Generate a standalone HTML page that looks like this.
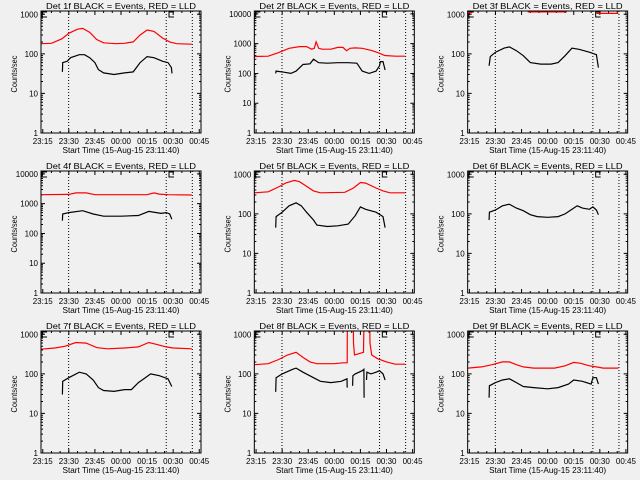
<!DOCTYPE html>
<html><head><meta charset="utf-8"><style>
html,body{margin:0;padding:0;background:#f0f0f0;}
svg{display:block;font-family:"Liberation Sans",sans-serif;}
</style></head><body>
<svg id="chart" width="640" height="480" viewBox="0 0 640 480" xmlns="http://www.w3.org/2000/svg"></svg>
<script>
// ---- data (time in minutes after 23:00, values in counts/sec) ----
const detectors = ["1f","2f","3f","4f","5f","6f","7f","8f","9f"];
const yMaxes = [1210,12500,1210,12500,1210,1210,1210,1210,1210];
const xTickLabels = ["23:15","23:30","23:45","00:00","00:15","00:30","00:45"];
const xTickTimes = [15,30,45,60,75,90,105];
const dottedTimes = [29.9,86,101];
const markerTimes = [14.6,87.6];
const red1 = [[14,180],[20,185],[26,240],[30,330],[35,420],[38,440],[42,350],[46,230],[50,190],[57,180],[62,185],[67,200],[71,300],[75,400],[79,370],[84,250],[88,200],[92,180],[100.7,175]];
const black1 = [[26.3,35],[26.5,60],[29,65],[31,80],[36,95],[39,95],[42,80],[45,60],[47,40],[50,33],[56,30],[62,33],[67,35],[71,60],[75,85],[79,80],[84,65],[87,60],[89,45],[89.3,32]];
const red2 = [[14,370],[22,380],[28,500],[34,700],[40,800],[44,800],[47,650],[48.5,700],[49.5,1150],[51,700],[53,650],[58,650],[62,750],[65,750],[67,580],[69,700],[72,720],[76,700],[81,600],[85,500],[89,400],[95,380],[100.7,380]];
const black2 = [[26.3,100],[26.5,120],[31,110],[35,100],[38,120],[42,200],[46,210],[48,300],[51,230],[56,220],[62,230],[68,230],[73,220],[76,120],[80,100],[84,120],[86,180],[86.5,250],[88,250],[89.2,130]];
const red3 = [[14,1100],[16.5,1100],null,[48.5,1150],[71,1150],null,[88,1050],[100.7,1050]];
const black3 = [[26.3,50],[27,85],[30,110],[35,140],[38,150],[42,120],[46,90],[50,60],[56,55],[62,55],[66,60],[70,90],[74,140],[78,130],[84,110],[88,95],[89.2,45]];
const red4 = [[14,2000],[30,2050],[34,2300],[40,2300],[45,2000],[75,2000],[79,2300],[82,2100],[87,2000],[100.7,1950]];
const black4 = [[26.3,270],[26.5,450],[30,500],[38,580],[44,450],[50,380],[60,380],[70,400],[76,550],[83,470],[86,500],[88,450],[89.2,300]];
const red5 = [[14,340],[22,360],[28,480],[32,600],[37,700],[40,650],[44,500],[48,380],[52,340],[66,350],[71,450],[75,620],[78,600],[84,450],[88,380],[92,340],[100.7,340]];
const black5 = [[26.3,45],[26.5,85],[30,110],[34,160],[38,190],[41,160],[44,110],[48,70],[50,52],[56,48],[62,50],[68,55],[72,90],[75,150],[78,130],[84,110],[88,85],[89.2,45]];
const red6 = [];
const black6 = [[26.3,70],[26.5,110],[30,125],[34,160],[38,175],[42,140],[46,120],[50,95],[54,85],[60,82],[66,85],[70,100],[74,130],[77,160],[80,140],[84,130],[86,150],[88,125],[89.2,95]];
const red7 = [[14,420],[22,450],[28,500],[34,620],[40,600],[46,460],[52,430],[62,450],[70,480],[76,620],[80,560],[86,480],[90,450],[100.7,430]];
const black7 = [[26.3,30],[26.5,65],[30,80],[36,110],[40,100],[44,70],[47,45],[50,38],[56,36],[62,40],[66,40],[70,60],[74,80],[77,100],[82,90],[87,75],[89.2,48]];
const red8 = [[14,170],[22,180],[28,230],[33,300],[38,350],[42,260],[46,200],[50,180],[60,180],[65,190],[67.4,190],[67.5,5000],[70.9,5000],[71,600],[71.6,300],[76.8,350],[77.2,5000],[80.2,5000],[80.5,600],[81.5,300],[85,240],[90,200],[95,175],[100.7,175]];
const black8 = [[26.3,35],[26.5,80],[30,100],[36,130],[38,140],[42,110],[48,80],[52,65],[58,60],[64,65],[67.3,75],[67.4,45],null,[70.5,50],[70.7,90],[72,100],[76,120],[77,130],[77.1,25],null,[78.5,70],[78.7,110],[81,100],[84,110],[86,120],[88,100],[89.2,70]];
const red9 = [[14,140],[22,150],[28,170],[34,200],[38,200],[42,170],[46,150],[52,140],[64,140],[70,160],[75,195],[79,185],[84,160],[88,150],[92,140],[100.7,140]];
const black9 = [[26.3,25],[26.5,50],[30,60],[34,70],[38,75],[42,60],[46,48],[52,45],[60,42],[66,45],[72,55],[75,70],[80,65],[85,55],[86,80],[88,80],[89.2,55]];
const redSeries = [red1,red2,red3,red4,red5,red6,red7,red8,red9];
const blackSeries = [black1,black2,black3,black4,black5,black6,black7,black8,black9];

const NS="http://www.w3.org/2000/svg";
const svg=document.getElementById('chart');
const X0=41,X1=201,Y0=11,Y1=133,TMIN=14,TMAX=106;
function mk(tag,attrs,parent){const e=document.createElementNS(NS,tag);for(const k in attrs)e.setAttribute(k,attrs[k]);parent.appendChild(e);return e;}

for(let i=0;i<9;i++){
  const ox=(i%3)*213.33, oy=Math.floor(i/3)*160;
  const yMax=yMaxes[i], lmax=Math.log10(yMax);
  const xs=t=>ox+X0+(t-TMIN)/(TMAX-TMIN)*(X1-X0);
  const ys=v=>oy+Y1-Math.log10(v)/lmax*(Y1-Y0);
  const g=mk('g',{},svg);
  
  
  const cp='clip'+i;
  const c=mk('clipPath',{id:cp},g);
  mk('rect',{x:ox+X0,y:oy+Y0,width:X1-X0,height:Y1-Y0},c);
  const title=mk('text',{x:ox+121,y:oy+9,'font-size':8,'text-anchor':'middle',fill:'#000',textLength:150,lengthAdjust:'spacingAndGlyphs'},g);
  title.textContent='Det '+detectors[i]+' BLACK = Events, RED = LLD';
  
  
  const yl=mk('text',{x:0,y:0,'font-size':8,'text-anchor':'middle',fill:'#000',transform:`translate(${ox+17},${oy+74}) rotate(-90)`,textLength:37,lengthAdjust:'spacingAndGlyphs'},g);
  yl.textContent='Counts/sec';
  
  
  const xl=mk('text',{x:ox+121,y:oy+153,'font-size':8,'text-anchor':'middle',fill:'#000',textLength:117,lengthAdjust:'spacingAndGlyphs'},g);
  xl.textContent='Start Time (15-Aug-15 23:11:40)';
  
  
  // ticks
  let d='';
  const nd=Math.ceil(lmax);
  for(let k=0;k<=nd;k++){
    for(let m=1;m<10;m++){
      const v=m*Math.pow(10,k); if(v>yMax) break;
      const y=ys(v), L=(m===1)?4:2;
      d+=`M${ox+X0},${y}h${L}M${ox+X1},${y}h${-L}`;
      if(m===1){
        const tl=mk('text',{x:ox+38,y:y+3,'font-size':8,'text-anchor':'end',fill:'#000'},g);
        tl.textContent=String(v);
        
        
      }
    }
  }
  for(let t=15;t<TMAX;t+=5){
    const x=xs(t), L=(t%15===0)?4:2;
    d+=`M${x},${oy+Y1}v${-L}M${x},${oy+Y0}v${L}`;
  }
  mk('path',{d:d,stroke:'#000','stroke-width':1,fill:'none'},g);
  xTickTimes.forEach((t,j)=>{
    const tl=mk('text',{x:xs(t),y:oy+144,'font-size':8,'text-anchor':'middle',fill:'#000'},g);
    tl.textContent=xTickLabels[j];
    
    
  });
  dottedTimes.forEach(t=>{
    const l=mk('line',{x1:xs(t),x2:xs(t),y1:oy+Y0,y2:oy+Y1,stroke:'#000','stroke-width':1,'stroke-dasharray':'1,2'},g);
    
    
  });
  markerTimes.forEach(t=>{
    const x=xs(t);
    const p=mk('path',{d:`M${x+5},${oy+Y0+1}H${x}V${oy+Y0+6}H${x+5}`,stroke:'#000','stroke-width':1,fill:'none'},g);
    
    
  });
  function line(series,color,name){
    if(!series.length) return;
    let pd='',pen=false;
    series.forEach(pt=>{
      if(!pt){pen=false;return;}
      pd+=(pen?'L':'M')+xs(pt[0]).toFixed(1)+','+ys(pt[1]).toFixed(1);pen=true;
    });
    const p=mk('path',{d:pd,stroke:color,'stroke-width':1.2,fill:'none','clip-path':`url(#${cp})`},g);
    
    
  }
  line(redSeries[i],'#ff0000','lld-series');
  line(blackSeries[i],'#000000','events-series');
  const box=mk('rect',{x:ox+X0,y:oy+Y0,width:X1-X0,height:Y1-Y0,fill:'none',stroke:'#000','stroke-width':1},g);
  
  
}
</script>
</body></html>
